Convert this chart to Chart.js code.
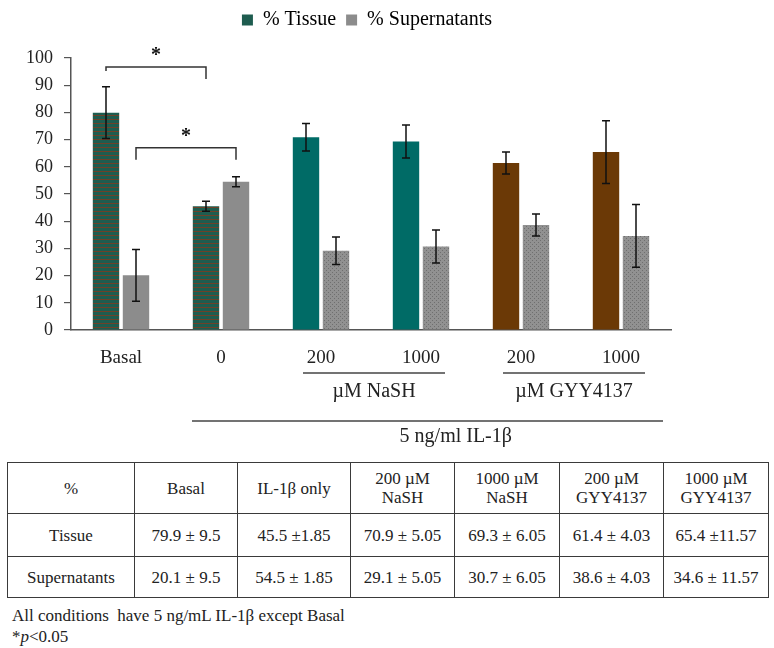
<!DOCTYPE html>
<html><head><meta charset="utf-8">
<script src="https://cdn.jsdelivr.net/npm/chart.js@4.4.0/dist/chart.umd.min.js"></script>
<style>
html,body{margin:0;padding:0;background:#fff;}
body{width:774px;height:648px;position:relative;overflow:hidden;font-family:"Liberation Serif","Times New Roman",serif;color:#222;}
#wrap{position:absolute;left:0;top:0;width:774px;height:455px;}
#tbl{position:absolute;left:7px;top:462px;border-collapse:collapse;table-layout:fixed;width:761px;font-size:17px;}
#tbl td{border:1.5px solid #3a3a3a;text-align:center;vertical-align:middle;padding:0;line-height:19px;white-space:pre;}
#notes{position:absolute;left:12px;top:605px;font-size:17px;line-height:21px;white-space:pre;}
</style></head>
<body>
<div id="wrap"><canvas id="c"></canvas></div>
<table id="tbl"></table>
<div id="notes"></div>
<script>
// ---- data ----
const categories = ['Basal', '0', '200', '1000', '200', '1000'];
const tissue = [79.9, 45.5, 70.9, 69.3, 61.4, 65.4];
const supernatants = [20.1, 54.5, 29.1, 30.7, 38.6, 34.6];
const errors = [9.5, 1.85, 5.05, 6.05, 4.03, 11.57];
const seriesLabels = ['% Tissue', '% Supernatants'];
const yTickMin = 0, yTickMax = 100, yTickStep = 10;
const groupLabels = [
  { text: 'µM NaSH', from: 2, to: 3 },
  { text: 'µM GYY4137', from: 4, to: 5 }
];
const treatmentLabel = { text: '5 ng/ml IL-1β', from: 1, to: 5 };
// significance brackets: [dataset, category] pairs, bracket level and leg ends in data units
const brackets = [
  { a: [0, 0], b: [0, 1], top: 96.7, endA: 95.2, endB: 92.3, mark: '*' },
  { a: [1, 0], b: [1, 1], top: 67.0, endA: 62.6, endB: 62.6, mark: '*' }
];
const tableHead = ['%', 'Basal', 'IL-1β only', '200 µM\nNaSH', '1000 µM\nNaSH', '200 µM\nGYY4137', '1000 µM\nGYY4137'];
const tissueCells = ['79.9 ± 9.5', '45.5 ±1.85', '70.9 ± 5.05', '69.3 ± 6.05', '61.4 ± 4.03', '65.4 ±11.57'];
const supernatantCells = ['20.1 ± 9.5', '54.5 ± 1.85', '29.1 ± 5.05', '30.7 ± 6.05', '38.6 ± 4.03', '34.6 ± 11.57'];
const rowLabels = ['Tissue', 'Supernatants'];
const noteLines = ['All conditions  have 5 ng/mL IL-1β except Basal', '*<i>p</i>&lt;0.05'];

// ---- styles ----
const FONT = '"Liberation Serif", "Times New Roman", serif';
function stripePattern() {
  const c = document.createElement('canvas'); c.width = 4; c.height = 4;
  const x = c.getContext('2d');
  x.fillStyle = '#1e5c4f'; x.fillRect(0, 0, 4, 4);
  x.fillStyle = '#6e4128'; x.fillRect(0, 3, 4, 1);
  return x.createPattern(c, 'repeat');
}
function dotPattern() {
  const c = document.createElement('canvas'); c.width = 4; c.height = 4;
  const x = c.getContext('2d');
  x.fillStyle = '#919191'; x.fillRect(0, 0, 4, 4);
  x.fillStyle = '#6f6f6f'; x.fillRect(0, 0, 1, 1); x.fillRect(2, 2, 1, 1);
  return x.createPattern(c, 'repeat');
}
const stripes = stripePattern(), dots = dotPattern();
const tissueColors = [stripes, stripes, '#006b66', '#006b66', '#6b3906', '#6b3906'];
const supColors = ['#8c8c8c', '#8c8c8c', dots, dots, dots, dots];
const legendColors = ['#1e5c4f', '#8c8c8c'];

// ---- table ----
(function buildTable() {
  const widths = [127, 103, 113, 104, 105, 104, 105];
  const heights = [51, 43, 41];
  const t = document.getElementById('tbl');
  const cg = document.createElement('colgroup');
  widths.forEach(w => { const c = document.createElement('col'); c.style.width = w + 'px'; cg.appendChild(c); });
  t.appendChild(cg);
  const rows = [tableHead, [rowLabels[0]].concat(tissueCells), [rowLabels[1]].concat(supernatantCells)];
  rows.forEach((r, i) => {
    const tr = document.createElement('tr'); tr.style.height = heights[i] + 'px';
    r.forEach(v => { const td = document.createElement('td'); td.textContent = v; tr.appendChild(td); });
    t.appendChild(tr);
  });
  document.getElementById('notes').innerHTML = noteLines.join('\n');
})();

// ---- plugins ----
const errorBars = {
  id: 'errorBars',
  afterDatasetsDraw(chart) {
    const ctx = chart.ctx, ys = chart.scales.y;
    ctx.save();
    ctx.strokeStyle = '#111'; ctx.lineWidth = 1.5;
    chart.data.datasets.forEach((ds, di) => {
      const meta = chart.getDatasetMeta(di);
      meta.data.forEach((bar, j) => {
        const v = ds.data[j], e = ds.errors[j];
        const y1 = ys.getPixelForValue(v + e), y2 = ys.getPixelForValue(v - e);
        ctx.beginPath();
        ctx.moveTo(bar.x, y1); ctx.lineTo(bar.x, y2);
        ctx.moveTo(bar.x - 4, y1); ctx.lineTo(bar.x + 4, y1);
        ctx.moveTo(bar.x - 4, y2); ctx.lineTo(bar.x + 4, y2);
        ctx.stroke();
      });
    });
    ctx.restore();
  }
};
const legendShift = {
  id: 'legendShift',
  afterLayout(chart) {
    const L = chart.legend;
    if (!L) return;
    const dy = -L.top;
    L.top += dy; L.bottom += dy;
    L.left -= 4; L.right -= 4;
  }
};
const annotations = {
  id: 'annotations',
  afterDraw(chart) {
    const ctx = chart.ctx, xs = chart.scales.x, ys = chart.scales.y;
    const bottom = chart.chartArea.bottom;
    ctx.save();
    // significance brackets
    ctx.strokeStyle = '#333'; ctx.lineWidth = 1.5; ctx.fillStyle = '#111';
    ctx.font = 'bold 20px ' + FONT; ctx.textAlign = 'center'; ctx.textBaseline = 'middle';
    brackets.forEach(b => {
      const xa = chart.getDatasetMeta(b.a[0]).data[b.a[1]].x;
      const xb = chart.getDatasetMeta(b.b[0]).data[b.b[1]].x;
      const yt = ys.getPixelForValue(b.top);
      ctx.beginPath();
      ctx.moveTo(xa, ys.getPixelForValue(b.endA)); ctx.lineTo(xa, yt);
      ctx.lineTo(xb, yt); ctx.lineTo(xb, ys.getPixelForValue(b.endB));
      ctx.stroke();
      ctx.fillText(b.mark, (xa + xb) / 2, yt - 11);
    });
    // group labels under axis
    ctx.strokeStyle = '#444'; ctx.lineWidth = 1.5; ctx.fillStyle = '#222';
    ctx.font = '20px ' + FONT;
    groupLabels.forEach(g => {
      const l = xs.getPixelForValue(g.from) - 18, r = xs.getPixelForValue(g.to) + 24;
      ctx.beginPath(); ctx.moveTo(l, bottom + 43); ctx.lineTo(r, bottom + 43); ctx.stroke();
      ctx.fillText(g.text, (l + r) / 2, bottom + 62);
    });
    const l = xs.getPixelForValue(treatmentLabel.from) - 29, r = xs.getPixelForValue(treatmentLabel.to) + 42;
    ctx.beginPath(); ctx.moveTo(l, bottom + 91); ctx.lineTo(r, bottom + 91); ctx.stroke();
    ctx.fillText(treatmentLabel.text, l + 0.56 * (r - l), bottom + 107);
    ctx.restore();
  }
};

// ---- chart ----
const yTicks = [];
for (let v = yTickMin; v <= yTickMax; v += yTickStep) yTicks.push(v);

new Chart(document.getElementById('c'), {
  type: 'bar',
  data: {
    labels: categories,
    datasets: [
      { label: seriesLabels[0], data: tissue, errors: errors, backgroundColor: tissueColors, borderWidth: 0 },
      { label: seriesLabels[1], data: supernatants, errors: errors, backgroundColor: supColors, borderWidth: 0 }
    ]
  },
  options: {
    responsive: true, maintainAspectRatio: false, animation: false,
    layout: { padding: { top: 18, bottom: 65, left: 0, right: 103 } },
    categoryPercentage: 0.6, barPercentage: 0.88,
    plugins: {
      legend: {
        position: 'top', fullSize: false,
        labels: {
          boxWidth: 11, boxHeight: 11, padding: 10, color: '#222',
          font: { family: FONT, size: 20 },
          generateLabels: (chart) => chart.data.datasets.map((d, i) => ({
            text: d.label, fillStyle: legendColors[i], strokeStyle: legendColors[i], lineWidth: 0, datasetIndex: i, hidden: false
          }))
        }
      },
      tooltip: { enabled: false }
    },
    scales: {
      x: {
        grid: { display: false },
        border: { display: true, color: '#555', width: 1.5 },
        ticks: { color: '#222', font: { family: FONT, size: 19 }, padding: 9 },
        afterFit: (s) => { s.height = 60; }
      },
      y: {
        min: yTickMin, max: yTickMax,
        afterBuildTicks: (s) => { s.ticks = yTicks.map(v => ({ value: v })); },
        grid: { drawOnChartArea: false, drawTicks: true, tickLength: 7, color: '#555', lineWidth: 1.2 },
        border: { display: true, color: '#555', width: 1.5 },
        ticks: { color: '#222', font: { family: FONT, size: 18 }, padding: 11 },
        afterFit: (s) => { s.width = 71; }
      }
    }
  },
  plugins: [legendShift, errorBars, annotations]
});
</script>
</body></html>
